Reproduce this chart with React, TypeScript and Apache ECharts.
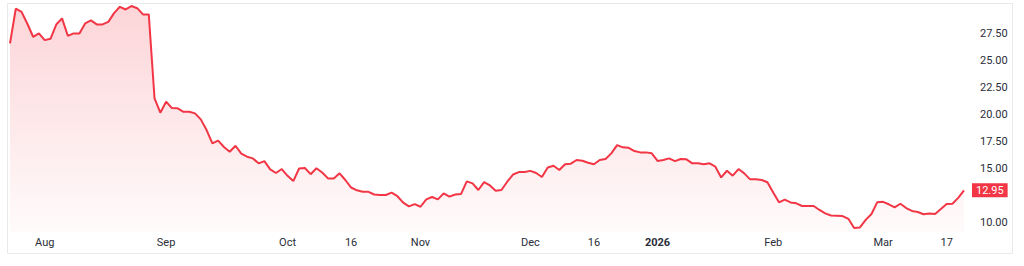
import React, { useEffect, useRef } from "react";
import * as echarts from "echarts";

const startDate = "2025-07-24";
const endDate = "2026-03-20";
const holidays = ["2025-09-01", "2025-11-27", "2025-12-25", "2026-01-01", "2026-01-19", "2026-02-16"];

const prices = [
  26.62, 29.85, 29.56, 28.45, 27.24, 27.55, 26.93, 27.05, 28.38, 28.95,
  27.33, 27.55, 27.55, 28.48, 28.76, 28.39, 28.39, 28.63, 29.44, 30.03,
  29.78, 30.1, 29.9, 29.32, 29.32, 21.5, 20.17, 21.2, 20.6, 20.58,
  20.26, 20.26, 20.11, 19.55, 18.56, 17.32, 17.57, 16.98, 16.54, 17.1,
  16.36, 16.08, 15.92, 15.46, 15.67, 14.9, 14.56, 14.93, 14.3, 13.81,
  14.98, 15.03, 14.45, 15.0, 14.61, 14.06, 14.06, 14.53, 13.91, 13.21,
  12.95, 12.82, 12.81, 12.56, 12.51, 12.51, 12.73, 12.4, 11.8, 11.45,
  11.66, 11.42, 12.1, 12.33, 12.11, 12.67, 12.36, 12.56, 12.6, 13.78,
  13.6, 12.98, 13.72, 13.4, 12.9, 12.98, 13.75, 14.42, 14.65, 14.65,
  14.76, 14.56, 14.19, 15.07, 15.24, 14.84, 15.38, 15.43, 15.77, 15.7,
  15.52, 15.38, 15.77, 15.86, 16.39, 17.16, 16.95, 16.91, 16.6, 16.48,
  16.48, 16.39, 15.68, 15.77, 15.92, 15.67, 15.86, 15.83, 15.46, 15.46,
  15.37, 15.46, 15.15, 14.15, 14.77, 14.31, 14.93, 14.53, 13.97, 13.97,
  13.91, 13.7, 12.75, 11.83, 12.08, 11.82, 11.74, 11.49, 11.49, 11.49,
  11.12, 10.8, 10.6, 10.58, 10.55, 10.3, 9.45, 9.5, 10.2, 10.75,
  11.85, 11.88, 11.65, 11.37, 11.7, 11.3, 11.03, 10.93, 10.72, 10.8,
  10.74, 11.2, 11.67, 11.7, 12.25, 12.95,
];

const tickDates = [
  "2025-08-01", "2025-09-02", "2025-10-01", "2025-10-16", "2025-11-03", "2025-12-01",
  "2025-12-16", "2026-01-02", "2026-02-02", "2026-03-02", "2026-03-17",
];
const tickLabels = ["Aug", "Sep", "Oct", "16", "Nov", "Dec", "16", "2026", "Feb", "Mar", "17"];
const boldLabels = ["2026"];
// 12.50 is covered by the last-price label, as in the reference
const yTicks = [10, 15, 17.5, 20, 22.5, 25, 27.5];
const lastPrice = 12.95;

function tradingDays(): string[] {
  const out: string[] = [];
  const d = new Date(startDate + "T00:00:00Z");
  const end = new Date(endDate + "T00:00:00Z");
  while (d <= end) {
    const dow = d.getUTCDay();
    const s = d.toISOString().slice(0, 10);
    if (dow !== 0 && dow !== 6 && !holidays.includes(s)) out.push(s);
    d.setUTCDate(d.getUTCDate() + 1);
  }
  return out;
}

const RED = "#f23645";
const FONT = "Roboto, 'Noto Sans', sans-serif";

export default function App() {
  const ref = useRef<HTMLDivElement>(null);
  useEffect(() => {
    if (!ref.current) return;
    const chart = echarts.init(ref.current, undefined, { renderer: "svg" });
    const dates = tradingDays();
    chart.setOption({
      animation: false,
      backgroundColor: "#ffffff",
      grid: { left: 10, right: 60, top: 4, bottom: 34 },
      xAxis: {
        type: "category",
        data: dates,
        boundaryGap: false,
        axisLine: { show: false },
        axisTick: { show: false },
        splitLine: { show: false },
        axisLabel: {
          interval: (_i: number, v: string) => tickDates.includes(v),
          formatter: (v: string) => {
            const k = tickDates.indexOf(v);
            if (k < 0) return "";
            const t = tickLabels[k];
            return boldLabels.includes(t) ? `{b|${t}}` : t;
          },
          color: "#2a2e39",
          fontSize: 11,
          fontFamily: FONT,
          margin: 5,
          rich: {
            b: { fontWeight: "bold", fontSize: 11, color: "#2a2e39", fontFamily: FONT },
          },
        },
      },
      yAxis: {
        type: "value",
        position: "right",
        min: 9.07,
        max: 30.29,
        splitLine: { show: false },
        axisLine: { show: false },
        axisTick: { show: false },
        axisLabel: {
          customValues: yTicks,
          formatter: (v: number) => v.toFixed(2),
          color: "#2a2e39",
          fontSize: 11,
          fontFamily: FONT,
          margin: 16,
        },
      },
      series: [
        {
          type: "line",
          data: prices,
          showSymbol: false,
          symbol: "none",
          lineStyle: { color: RED, width: 2 },
          itemStyle: { color: RED },
          areaStyle: {
            origin: "start",
            color: new echarts.graphic.LinearGradient(0, 0, 0, 1, [
              { offset: 0, color: "rgba(242,54,69,0.30)" },
              { offset: 1, color: "rgba(242,54,69,0.03)" },
            ]),
          },
          markLine: {
            silent: true,
            symbol: ["none", "none"],
            lineStyle: { width: 0, color: "rgba(0,0,0,0)" },
            data: [{ yAxis: lastPrice }],
            label: {
              show: true,
              position: "end",
              formatter: lastPrice.toFixed(2),
              color: "#ffffff",
              backgroundColor: RED,
              padding: [2, 4, 1, 4],
              fontSize: 11,
              fontFamily: FONT,
              distance: 8,
            },
          },
        },
      ],
      graphic: [
        {
          type: "rect",
          silent: true,
          z: 100,
          shape: { x: 7.5, y: 3.5, width: 1005, height: 250 },
          style: { fill: "none", stroke: "#e9e9ec", lineWidth: 1 },
        },
      ],
    });
    return () => chart.dispose();
  }, []);
  return (
    <div
      ref={ref}
      style={{ position: "absolute", left: 0, top: 0, width: 1024, height: 266 }}
    />
  );
}
